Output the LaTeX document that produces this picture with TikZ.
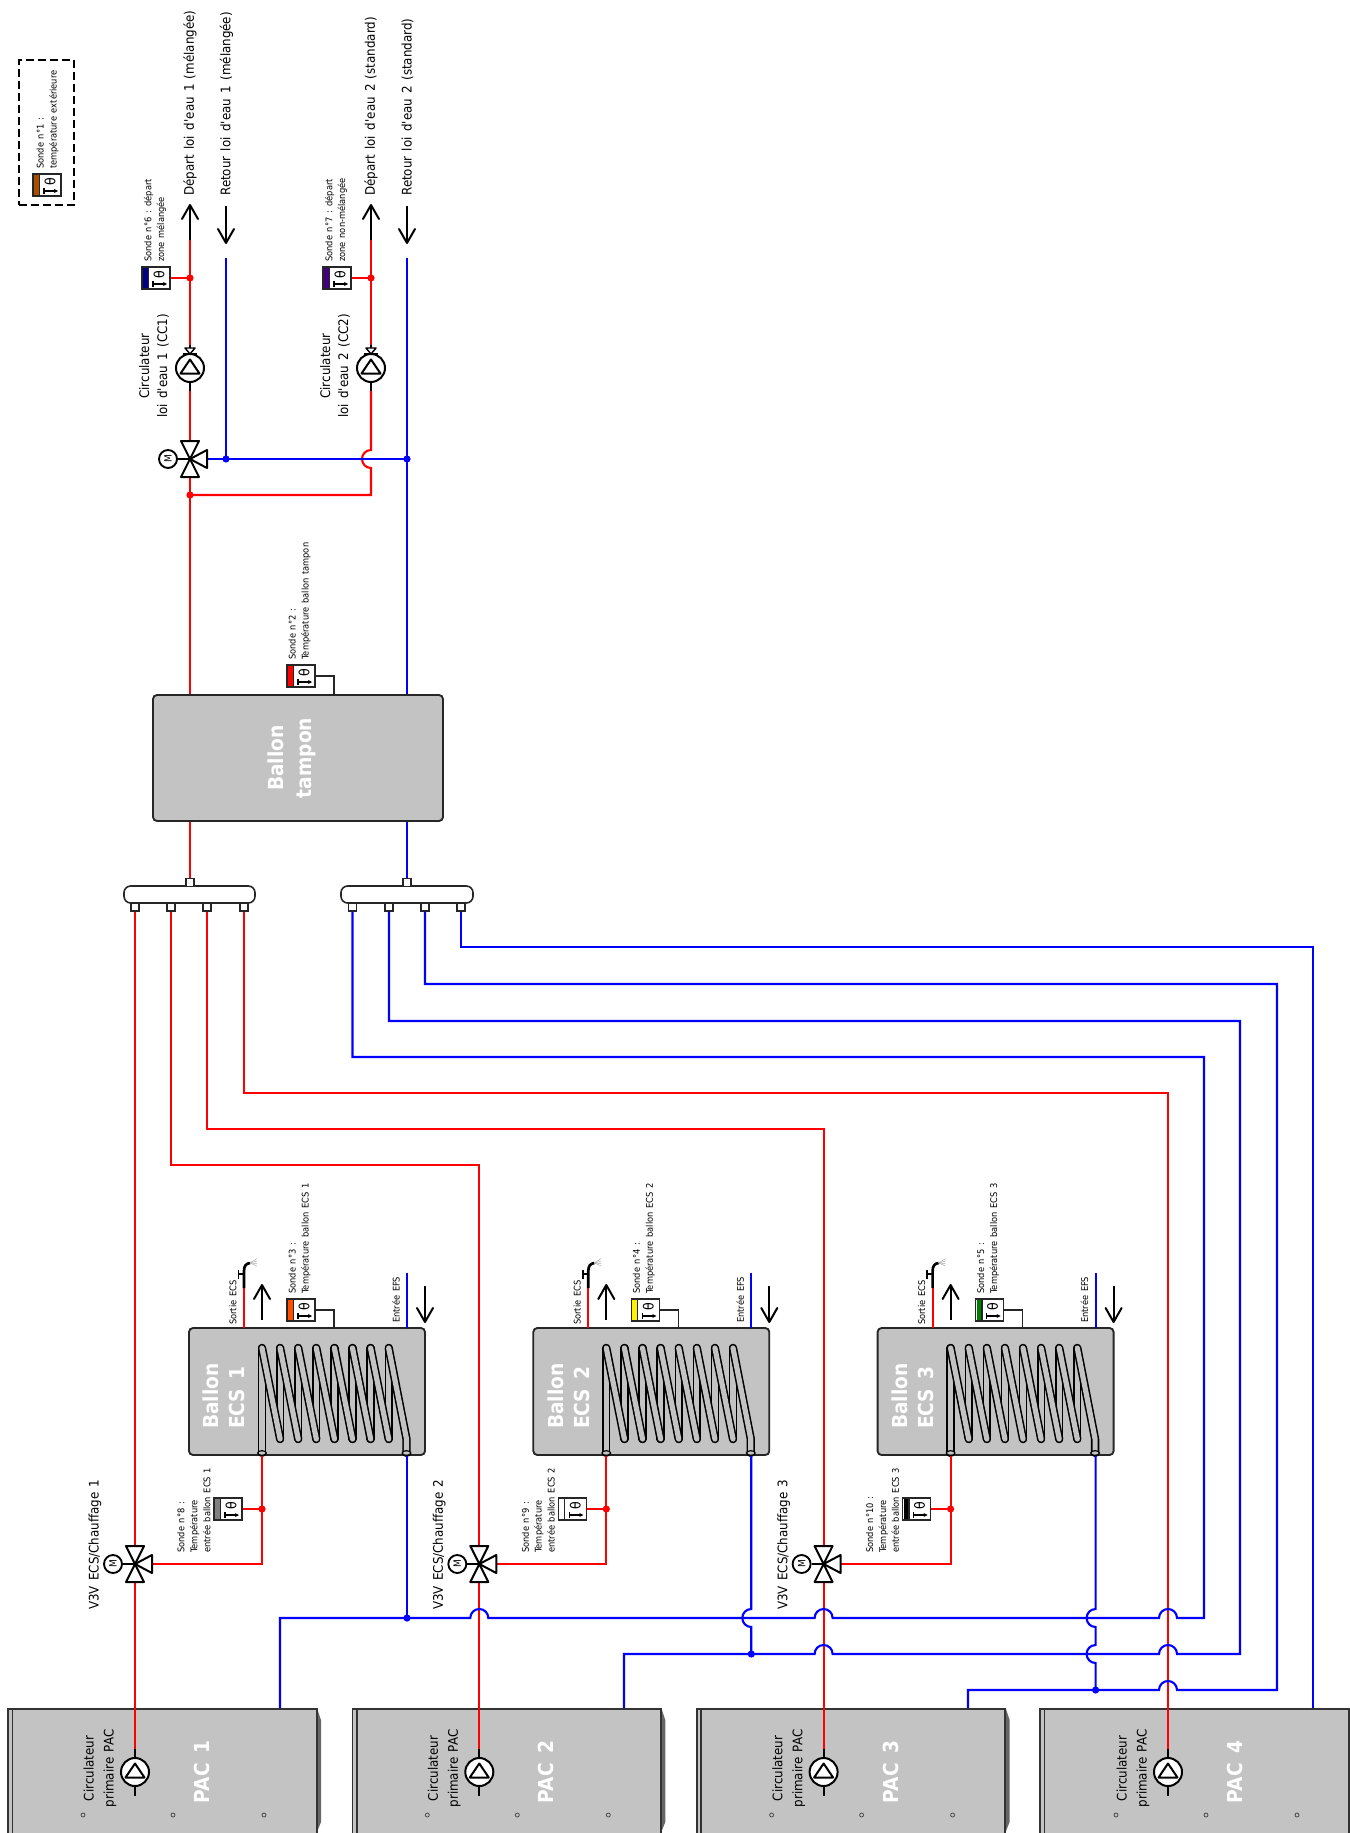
\documentclass[tikz,border=0pt]{standalone}
\usepackage{fontspec}
\setmainfont{DejaVu Sans}[FakeStretch=0.9,WordSpace=1.4]
\usetikzlibrary{arrows.meta,shapes.geometric}
\definecolor{boxgray}{HTML}{C3C3C3}
\definecolor{brun}{HTML}{A85000}
\definecolor{orangeS}{HTML}{FF5000}
\definecolor{vertS}{HTML}{008000}
\definecolor{navyS}{HTML}{000080}
\definecolor{violetS}{HTML}{400080}
\newcommand\ap{\textquotesingle}
\tikzset{
 redpipe/.style={draw=red,line width=1.6pt},
 bluepipe/.style={draw=blue,line width=1.6pt},
 blk/.style={draw=black,line width=1.5pt},
 coil/.style={draw=black,line width=1.15pt,double=boxgray,double distance=3.9pt,line cap=round,line join=round},
 tank/.style={draw=black!85,line width=1.4pt,fill=boxgray,rounded corners=3pt,inner sep=0},
 sensorbox/.style={draw=black!85,line width=1.2pt,fill=white,minimum width=21pt,minimum height=16.5pt,inner sep=0},
 port/.style={draw=black!85,line width=1.1pt,fill=white,minimum size=6pt,inner sep=0},
 dotr/.style={circle,fill=red,inner sep=0,minimum size=5.4pt},
 dotb/.style={circle,fill=blue,inner sep=0,minimum size=5.4pt},
 big/.style={rotate=90,inner sep=0,font=\fontsize{9.9}{13.6}\selectfont,align=center},
 small/.style={rotate=90,inner sep=0,anchor=west,font=\fontsize{6.9}{9.7}\selectfont,align=left,text=black},
 white bold/.style={rotate=90,inner sep=0,text=white,font=\bfseries\fontsize{15.5}{20}\selectfont},
}
\newcommand\sensor[4]{%
 \node[sensorbox] (#1) at (#2+14,#3+11) {};
 \fill[#4] (#2+1,#3+1) rectangle (#2+6,#3+21);
 \draw[black!85,line width=1pt] (#2+6.5,#3) -- (#2+6.5,#3+22);
 \node[rotate=90,inner sep=0,font=\fontsize{10.5}{10.5}\selectfont] (#1t) at (#2+17,#3+7.7) {θ};
 \coordinate (#1a) at (#2+11,#3+17);
 \coordinate (#1b) at (#2+25,#3+17);
 \draw[line width=.9pt,-{Stealth[length=3pt,width=3pt]}] (#1a) -- (#1b);
 \draw[line width=.9pt] ([yshift=2pt]#1a) -- ([yshift=-2pt]#1a);
}
\newcommand\pump[3]{%
 \node[circle,draw=black,line width=1.5pt,fill=white,minimum size=21pt,inner sep=0] (#1) at (#2,#3) {};
 \coordinate (#1A) at (#2,#3-8.5);
 \coordinate (#1B) at (#2-9.5,#3+5.5);
 \coordinate (#1C) at (#2+9.5,#3+5.5);
 \draw[blk,line join=round] (#1A) -- (#1B) -- (#1C) -- cycle;
}
\newcommand\valve[3]{%
 \coordinate (#1) at (#2,#3);
 \coordinate (#1t) at (#2,#3-18);
 \coordinate (#1b) at (#2,#3+18);
 \coordinate (#1r) at (#2+17,#3);
 \node[circle,draw=black,line width=1.4pt,fill=white,minimum size=13.5pt,inner sep=0,rotate=90,font=\fontsize{7.5}{7.5}\selectfont] (#1m) at (#2-22,#3) {M};
 \draw[blk] (#1m) -- (#1);
 \draw[blk,fill=white,line join=round] (#2-9,#3-18) -- (#2+9,#3-18) -- (#1) -- cycle;
 \draw[blk,fill=white,line join=round] (#2-9,#3+18) -- (#2+9,#3+18) -- (#1) -- cycle;
 \draw[blk,fill=white,line join=round] (#2+17,#3-9) -- (#2+17,#3+9) -- (#1) -- cycle;
}
\newcommand\upar[1]{% arrow head at coordinate, pointing up
 \draw[blk,line cap=round,line join=round] ([xshift=-6pt,yshift=-10.5pt]#1) -- (#1) -- ([xshift=6pt,yshift=-10.5pt]#1);
}
\newcommand\dnar[1]{%
 \draw[blk,line cap=round,line join=round] ([xshift=-6pt,yshift=10.5pt]#1) -- (#1) -- ([xshift=6pt,yshift=10.5pt]#1);
}
% jump over a crossing, travelling leftwards (arc above) or downwards (arc to the left)
\newcommand\hj[1]{-- ([xshift=6.75pt]#1) .. controls ([xshift=6.75pt,yshift=3.75pt]#1) and ([xshift=3.75pt,yshift=6.75pt]#1) .. ([yshift=6.75pt]#1) .. controls ([xshift=-3.75pt,yshift=6.75pt]#1) and ([xshift=-6.75pt,yshift=3.75pt]#1) .. ([xshift=-6.75pt]#1)}
\newcommand\vj[1]{-- ([yshift=6.75pt]#1) .. controls ([xshift=-3.75pt,yshift=6.75pt]#1) and ([xshift=-6.75pt,yshift=3.75pt]#1) .. ([xshift=-6.75pt]#1) .. controls ([xshift=-6.75pt,yshift=-3.75pt]#1) and ([xshift=-3.75pt,yshift=-6.75pt]#1) .. ([yshift=-6.75pt]#1)}
\begin{document}
\begin{tikzpicture}[x=0.75pt,y=-0.75pt]
\useasboundingbox (0,0) rectangle (1349,1833);

%% PAC units
\foreach \n/\o/\p in {1/0/0,2/344.3/344.3,3/688.6/688.6,4/1033/1032}{
 \ifnum\n<4
  \fill[black!60] (317+\p,1708) -- (321+\p,1720) -- (321+\p,1822) -- (317+\p,1832) -- cycle;
 \fi
 \node[fill=boxgray,minimum width=231pt,minimum height=93pt,inner sep=0] (pac\n) at (162.5+\p,1771) {};
 \draw[draw=black!80,line width=1.4pt] (pac\n.south west) -- (pac\n.north west) -- (pac\n.north east) -- (pac\n.south east);
 \coordinate (pacL\n) at (12.5+\p,1708);
 \draw[draw=black!80,line width=1.1pt] (pacL\n) -- (pacL\n |- pac\n.south);
 \foreach \d in {83,173,264}{
  \node[circle,draw=black!70,line width=.6pt,minimum size=3pt,inner sep=0] (pd\n\d) at (\d+\o,1815) {};
 }
 \node[white bold] (pact\n) at (202+\o,1772) {PAC \n};
 \node[big,font=\fontsize{9.9}{15}\selectfont] (pact\n c) at (100+\o,1768.5) {Circulateur\\primaire PAC};
}

%% Storage tanks
\node[tank,minimum width=217.5pt,minimum height=94.5pt] (tampon) at (298,758) {};
\node[white bold,align=center,font=\bfseries\fontsize{15.5}{21}\selectfont] (tamptxt) at (292,758) {Ballon\\tampon};

\foreach \n/\o in {1/0,2/344.3,3/688.6}{
 \node[tank,minimum width=177pt,minimum height=95.25pt] (ecs\n) at (307+\o,1391.5) {};
 \node[white bold,align=left,anchor=west,font=\bfseries\fontsize{15.5}{19.5}\selectfont] (ecst\n) at (224+\o,1429) {Ballon\\ECS \n};
 % coil
 \foreach \i in {0,...,7}{
  \pgfmathsetmacro\xx{262+\o+18.1*\i}
  \coordinate (ct\n\i) at (\xx,1348);
  \coordinate (cb\n\i) at (\xx,1439);
 }
 \coordinate (cin\n) at (262+\o,1453);
 \coordinate (cout\n) at (406.5+\o,1453);
 \coordinate (coutb\n) at (406.5+\o,1439);
 \foreach \i in {1,...,7}{
  \draw[coil] (cb\n\i) -- (ct\n\i);
 }
 \draw[coil] (cin\n) -- (ct\n0);
 \foreach \i/\j in {0/1,1/2,2/3,3/4,4/5,5/6,6/7}{
  \draw[coil] (ct\n\i) -- (cb\n\j);
 }
 \draw[coil] (ct\n7) -- (coutb\n) -- (cout\n);
 \node[ellipse,draw=black,line width=.9pt,fill=boxgray,minimum width=6.5pt,minimum height=3.5pt,inner sep=0] (ein\n) at (cin\n) {};
 \node[ellipse,draw=black,line width=.9pt,fill=boxgray,minimum width=6.5pt,minimum height=3.5pt,inner sep=0] (eout\n) at (cout\n) {};
}

%% Crossing points
\coordinate (jc) at (371,459);
\coordinate (j11) at (479.3,1618);
\coordinate (j21) at (823.6,1618);
\coordinate (j22) at (823.6,1654);
\coordinate (j41) at (1168,1618);
\coordinate (j42) at (1168,1654);
\coordinate (j43) at (1168,1690);
\coordinate (b21) at (751.3,1618);
\coordinate (b31) at (1095.6,1618);
\coordinate (b32) at (1095.6,1654);

%% Named pipe points
\coordinate (d1) at (190,240); \coordinate (d2) at (371,240);
\coordinate (p1t) at (190,345); \coordinate (p1b) at (190,391);
\coordinate (p2t) at (371,345); \coordinate (p2b) at (371,391);
\coordinate (r1) at (226,258); \coordinate (r2) at (407,258);
\coordinate (t1) at (190,694); \coordinate (t2) at (407,694);
\coordinate (u1) at (190,821.5); \coordinate (u2) at (407,821.5);
\coordinate (mix) at (190,495);
\coordinate (mixb) at (226,459);
\coordinate (mixc) at (407,459);
\coordinate (cr2) at (479.3,1165);
\coordinate (cr3) at (823.6,1129);
\coordinate (cr4) at (1168,1093);
\coordinate (cb1) at (1204,1057);
\coordinate (cb2) at (1240,1021);
\coordinate (cb3) at (1277,984);
\coordinate (cb4) at (1313,947);
\coordinate (cd1) at (1204,1618);
\coordinate (cd2) at (1240,1654);
\coordinate (cd3) at (1277,1690);
\coordinate (pb1) at (280,1618);
\coordinate (pb2) at (624,1654);
\coordinate (pb3) at (968,1690);
\coordinate (pi1) at (280,1708);
\coordinate (pi2) at (624,1708);
\coordinate (pi3) at (968,1708);
\coordinate (pi4) at (1313,1708);
\coordinate (eb1) at (407,1618);
\coordinate (eb2) at (751.3,1654);
\coordinate (eb3) at (1095.6,1690);

%% Collectors
\node[draw=black!85,line width=1.2pt,fill=white,rounded corners=5pt,minimum width=98.25pt,minimum height=12.75pt,inner sep=0] (ml) at (189.5,894.5) {};
\node[draw=black!85,line width=1.2pt,fill=white,rounded corners=5pt,minimum width=99pt,minimum height=12.75pt,inner sep=0] (mr) at (407,894.5) {};
\node[port] (mlt) at (190,882.5) {};
\node[port] (mrt) at (407,882.5) {};
\foreach \n/\xa/\xb in {1/135/352.5,2/171/389,3/207/425,4/244/461}{
 \node[port] (ml\n) at (\xa,907) {};
 \node[port] (mr\n) at (\xb,907) {};
}

%% Valves and pumps (coordinates first)
\foreach \n/\o in {1/0,2/344.3,3/688.6}{
 \coordinate (vv\n) at (135+\o,1546);
 \coordinate (vw\n) at (135+\o,1582);
}
\foreach \n/\o in {1/0,2/344.3,3/688.6,4/1033}{
 \coordinate (pt\n) at (135+\o,1749);
 \coordinate (pbt\n) at (135+\o,1796);
}

%% Red pipes
\coordinate (v3t) at (190,441);
\coordinate (v3b) at (190,477);
\draw[redpipe] (d1) -- (p1t);
\draw[redpipe] (d2) -- (p2t);
\draw[redpipe] (p1b) -- (v3t);
\draw[redpipe] (v3b) -- (t1);
\draw[redpipe,line join=miter] (p2b) \vj{jc} |- (mix);
\draw[redpipe] (u1) -- (mlt.north);
\draw[redpipe] (ml1.south) -- (vv1);
\draw[redpipe,line join=miter] (ml2.south) |- (cr2) -- (vv2);
\draw[redpipe,line join=miter] (ml3.south) |- (cr3) -- (vv3);
\draw[redpipe,line join=miter] (ml4.south) |- (cr4) -- (pt4);
\draw[redpipe] (vw1) -- (pt1);
\draw[redpipe] (vw2) -- (pt2);
\draw[redpipe] (vw3) -- (pt3);
\foreach \n/\o in {1/0,2/344.3,3/688.6}{
 \coordinate (vh\n) at (152+\o,1564);
 \coordinate (vd\n) at (262+\o,1509);
 \coordinate (bi\n) at (262+\o,1456);
 \coordinate (so\n) at (244+\o,1328);
 \coordinate (sh\n) at (244+\o,1288);
 \draw[redpipe,line join=miter] (vh\n) -| (bi\n);
 \draw[redpipe] (so\n) -- (sh\n);
}

%% Blue pipes
\draw[bluepipe] (r1) -- (mixb);
\draw[bluepipe] (r2) -- (t2);
\coordinate (v3r) at (206,459);
\draw[bluepipe] (mixc) -- (v3r);
\draw[bluepipe] (u2) -- (mrt.north);
\draw[bluepipe,line join=miter] (mr1.south) |- (cb1) -- (cd1) \hj{j41} \hj{j21} \hj{j11} -- (pb1) -- (pi1);
\draw[bluepipe,line join=miter] (mr2.south) |- (cb2) -- (cd2) \hj{j42} \hj{j22} -- (pb2) -- (pi2);
\draw[bluepipe,line join=miter] (mr3.south) |- (cb3) -- (cd3) \hj{j43} -- (pb3) -- (pi3);
\draw[bluepipe,line join=miter] (mr4.south) |- (cb4) -- (pi4);
\coordinate (ef1) at (407,1456);
\coordinate (ef2) at (751.3,1456);
\coordinate (ef3) at (1095.6,1456);
\draw[bluepipe] (ef1) -- (eb1);
\draw[bluepipe] (ef2) \vj{b21} -- (eb2);
\draw[bluepipe] (ef3) \vj{b31} \vj{b32} -- (eb3);
\foreach \n/\o in {1/0,2/344.3,3/688.6}{
 \coordinate (ei\n) at (407+\o,1328);
 \coordinate (et\n) at (407+\o,1273);
 \draw[bluepipe] (ei\n) -- (et\n);
}
\node[dotb] (dbA) at (mixb) {};
\node[dotb] (dbB) at (mixc) {};
\node[dotb] (dbC) at (eb1) {};
\node[dotb] (dbD) at (eb2) {};
\node[dotb] (dbE) at (eb3) {};
\node[dotr] (drA) at (mix) {};

%% Sensors
\sensor{s1}{33}{174}{brun}
\sensor{s2}{287}{665}{red}
\sensor{s6}{142}{267}{navyS}
\sensor{s7}{323}{267}{violetS}
\sensor{s3}{287}{1299}{orangeS}
\sensor{s4}{631.3}{1299}{yellow}
\sensor{s5}{975.6}{1299}{vertS}
\sensor{s8}{214}{1498}{gray}
\sensor{s9}{558.3}{1498}{white}
\sensor{s10}{902.6}{1498}{black}

%% Sensor links
\coordinate (h2) at (334,694);
\draw[draw=black!85,line width=1.2pt] (s2.east) -| (h2);
\coordinate (h3) at (334,1328);
\coordinate (h4) at (678.3,1328);
\coordinate (h5) at (1022.6,1328);
\draw[draw=black!85,line width=1.2pt] (s3.east) -| (h3);
\draw[draw=black!85,line width=1.2pt] (s4.east) -| (h4);
\draw[draw=black!85,line width=1.2pt] (s5.east) -| (h5);
\coordinate (ds6) at (190,278);
\coordinate (ds7) at (371,278);
\draw[redpipe,line width=1.3pt] (s6.east) -- (ds6);
\draw[redpipe,line width=1.3pt] (s7.east) -- (ds7);
\node[dotr] (ds6d) at (ds6) {};
\node[dotr] (ds7d) at (ds7) {};
\draw[redpipe,line width=1.3pt] (s8.east) -- (vd1);
\draw[redpipe,line width=1.3pt] (s9.east) -- (vd2);
\draw[redpipe,line width=1.3pt] (s10.east) -- (vd3);
\node[dotr] (ddA) at (vd1) {};
\node[dotr] (ddB) at (vd2) {};
\node[dotr] (ddC) at (vd3) {};

%% Valves
\valve{v3a}{190}{459}
\foreach \n/\o in {1/0,2/344.3,3/688.6}{
 \valve{vl\n}{135+\o}{1564}
}

%% Pumps
\foreach \n/\xx in {1/190,2/371}{
 \coordinate (cs\n) at (\xx,345);
 \coordinate (csb\n) at (\xx,391);
 \draw[blk] (cs\n) -- (csb\n);
 \pump{pc\n}{\xx}{368}
 \draw[draw=black,line width=1.1pt,fill=white,line join=round] (\xx-5,348) -- (\xx+5,348) -- (\xx,354) -- cycle;
 \draw[blk] (\xx-7,354) -- (\xx+7,354);
}
\foreach \n/\o in {1/0,2/344.3,3/688.6,4/1033}{
 \draw[blk] (pt\n) -- (pbt\n);
 \pump{pp\n}{135+\o}{1772}
}

%% Legend
\node[draw=black,line width=1.4pt,dash pattern=on 6pt off 3pt,minimum width=41.25pt,minimum height=108.75pt,inner sep=0] (legend) at (46.5,132.5) {};

%% Outlet arrows
\coordinate (a1t) at (190,205);
\coordinate (a2t) at (371,205);
\draw[blk] (d1) -- (a1t); \upar{a1t}
\draw[blk] (d2) -- (a2t); \upar{a2t}
\coordinate (a3t) at (226,206); \coordinate (a3b) at (226,243);
\coordinate (a4t) at (407,206); \coordinate (a4b) at (407,243);
\draw[blk] (a3t) -- (a3b); \dnar{a3b}
\draw[blk] (a4t) -- (a4b); \dnar{a4b}
\foreach \n/\o in {1/0,2/344.3,3/688.6}{
 \coordinate (at\n) at (262+\o,1285);
 \coordinate (ab\n) at (262+\o,1320);
 \draw[blk] (ab\n) -- (at\n); \upar{at\n}
 \coordinate (dt\n) at (425+\o,1286);
 \coordinate (db\n) at (425+\o,1322);
 \draw[blk] (dt\n) -- (db\n); \dnar{db\n}
 % shower
 \coordinate (sA\n) at (244+\o,1271);
 \coordinate (sB\n) at (250+\o,1263);
 \draw[draw=black,line width=2pt] (sh\n) -- (sA\n) .. controls (244+\o,1266) and (246+\o,1263.5) .. (sB\n);
 \draw[draw=black,line width=1.3pt] (244+\o,1274) -- (238.5+\o,1274) (238.5+\o,1270) -- (238.5+\o,1279);
 \foreach \yy in {1258.5,1261,1263.5,1266}{
  \draw[draw=black!35,line width=.35pt] (sB\n) -- (257+\o,\yy);
 }
 % labels
 \node[small] (tso\n) at (233+\o,1325) {Sortie ECS};
 \node[small] (tef\n) at (396+\o,1323) {Entrée EFS};
 \pgfmathtruncatemacro\sn{\n+2}
 \node[small] (tsa\n) at (299.5+\o,1294) {Sonde n°\sn\ :\\Température ballon ECS \n};
 \pgfmathtruncatemacro\sm{\n+7}
 \node[small] (tsb\n) at (194+\o,1553) {Sonde n°\sm\ :\\Température\\entrée ballon ECS \n};
 \node[big,anchor=west,align=left] (tv\n) at (95+\o,1610) {V3V ECS/Chauffage \n};
}

%% Labels
\node[small] (tl1) at (47.5,169) {Sonde n°1 :\\température extérieure};
\node[small] (t2) at (299.5,660) {Sonde n°2 :\\Température ballon tampon};
\node[small] (t6) at (155,262) {Sonde n°6 : départ\\zone mélangée};
\node[small] (t7) at (336,262) {Sonde n°7 : départ\\zone non-mélangée};
\node[big] (tc1) at (154,366) {Circulateur\\loi d\ap{}eau 1 (CC1)};
\node[big] (tc2) at (335,366) {Circulateur\\loi d\ap{}eau 2 (CC2)};
\node[big,anchor=west] (dp1) at (190,196) {Départ loi d\ap{}eau 1 (mélangée)};
\node[big,anchor=west] (rt1) at (226.5,196) {Retour loi d\ap{}eau 1 (mélangée)};
\node[big,anchor=west] (dp2) at (371,196) {Départ loi d\ap{}eau 2 (standard)};
\node[big,anchor=west] (rt2) at (407.5,196) {Retour loi d\ap{}eau 2 (standard)};
\end{tikzpicture}
\end{document}
